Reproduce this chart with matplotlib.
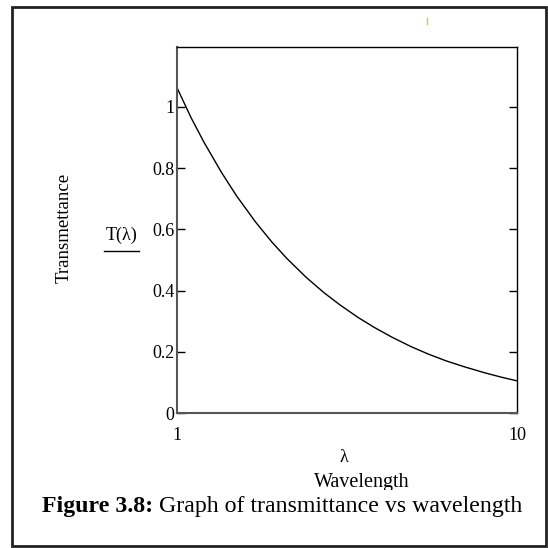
import matplotlib
matplotlib.use('Agg')
import matplotlib.pyplot as plt
from matplotlib.lines import Line2D
from matplotlib.patches import Rectangle
from matplotlib.transforms import Bbox

plt.rcParams['font.family'] = ['Liberation Serif', 'DejaVu Serif']

# transmittance curve T(lambda)
wavelength = [1.0, 1.1, 1.2, 1.35, 1.5, 1.7, 1.9, 2.1, 2.4, 2.7, 3.0, 3.4,
              3.8, 4.3, 4.9, 5.5, 6.2, 7.0, 8.0, 9.0, 10.0]
transmittance = [1.063, 0.965, 0.885, 0.787, 0.708, 0.625, 0.559, 0.506, 0.443, 0.394, 0.355, 0.313,
                 0.280, 0.247, 0.216, 0.192, 0.170, 0.151, 0.132, 0.117, 0.105]

y_ticks = [0, 0.2, 0.4, 0.6, 0.8, 1.0]
y_labels = ['0', '0.2', '0.4', '0.6', '0.8', '1']
x_ticks = [1, 10]
x_labels = ['1', '10']

W = H = 548


def fx(px):
    return px / W


def fy(py):
    return 1 - py / H


fig = plt.figure(figsize=(5.48, 5.48), dpi=100)
ax = fig.add_axes([fx(177), fy(413), fx(517) - fx(177), fy(47) - fy(413)])

ax.plot(wavelength, transmittance, color='k', lw=1.0)
ax.set_xscale('log')
ax.set_xlim(1, 10)
ax.set_ylim(0, 1.196)

ax.set_yticks(y_ticks, y_labels, fontsize=13)
ax.set_xticks(x_ticks, x_labels, fontsize=13)
ax.xaxis.set_minor_locator(matplotlib.ticker.NullLocator())
ax.tick_params(axis='y', direction='in', length=6, width=1, left=True, right=True, pad=2)
ax.tick_params(axis='x', length=0, pad=10)

for s in ['left', 'bottom']:
    ax.spines[s].set_color('#555555')
    ax.spines[s].set_linewidth(1.5)
for s in ['top', 'right']:
    ax.spines[s].set_color('k')
    ax.spines[s].set_linewidth(1.0)

# y axis labels
fig.text(fx(64), fy(228), 'Transmettance', rotation=90, fontsize=13.5, ha='center', va='center')
fig.text(fx(122), fy(235), 'T(λ)', fontsize=13, ha='center', va='center')
fig.add_artist(Line2D([fx(104), fx(139)], [fy(251), fy(251)], color='k', lw=1.0))

# x axis labels
fig.text(fx(344), fy(458), 'λ', fontsize=13, ha='center', va='center')
wl = fig.text(fx(362), fy(483), 'Wavelength', fontsize=14.5, ha='center', va='center')
wl.set_clip_box(Bbox([[0, H - 490], [W, H]]))
wl.set_clip_on(True)

# caption
cap1 = fig.text(fx(42), fy(512), 'Figure 3.8:', fontsize=17.2, fontweight='bold',
                ha='left', va='baseline')
ax.annotate(' Graph of transmittance vs wavelength', xy=(1, 0), xycoords=cap1,
            fontsize=17.2, ha='left', va='bottom', annotation_clip=False)

# frame around the figure
fig.add_artist(Rectangle((fx(12), fy(546)), fx(546) - fx(12), fy(7) - fy(546),
                         fill=False, edgecolor='#222222', lw=2.0))
fig.add_artist(Line2D([fx(427), fx(427)], [fy(18), fy(24)], color='#b8d44a', lw=1.0))

fig.savefig('out.png', dpi=100)
